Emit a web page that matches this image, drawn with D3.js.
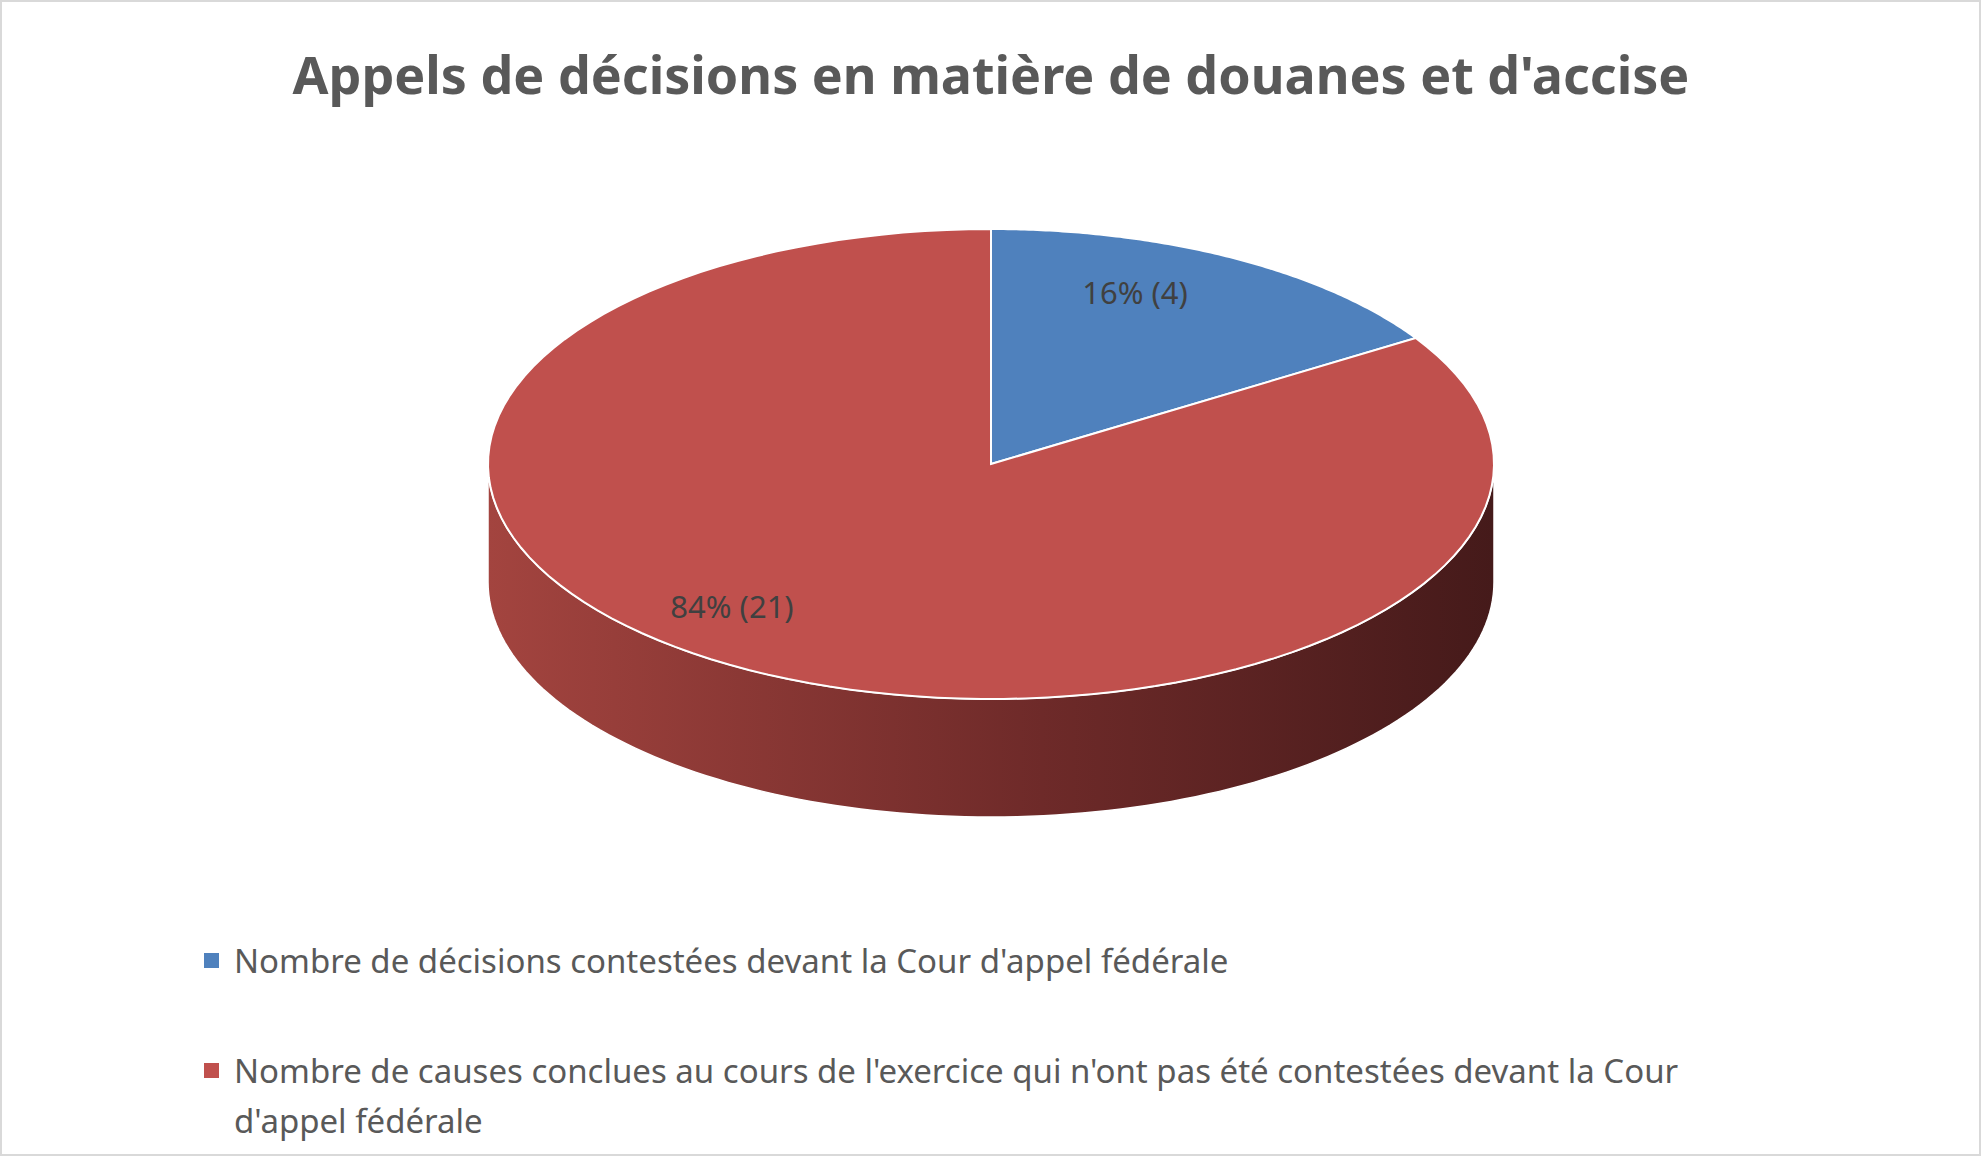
<!DOCTYPE html>
<html lang="fr">
<head>
<meta charset="UTF-8" />
<script src="https://cdn.jsdelivr.net/npm/d3@7"></script>
<style>
  body { margin:0; background:#fff; }
  svg text { font-family: "Noto Sans", "Open Sans", sans-serif; }
</style>
</head>
<body>
<svg id="chart" width="1982" height="1157"></svg>
<script>
// data
var categories = ["Nombre de décisions contestées devant la Cour d'appel fédérale",
  "Nombre de causes conclues au cours de l'exercice qui n'ont pas été contestées devant la Cour d'appel fédérale"];
var values = [4, 21];
var colors = ["#4f81bd", "#c0504d"];
var title = "Appels de décisions en matière de douanes et d'accise";

var svg = d3.select("#chart");
svg.append("rect").attr("x", 1).attr("y", 1).attr("width", 1979).attr("height", 1154)
  .attr("fill", "#fff").attr("stroke", "#d9d9d9").attr("stroke-width", 2);

svg.append("text").attr("x", 991).attr("y", 94).attr("text-anchor", "middle")
  .attr("font-size", 52).attr("font-weight", "bold").attr("fill", "#595959").text(title);

var cx = 991, cy = 464, rx = 503, ry = 235, depth = 118;
function pt(a, dy) { return [cx + rx * Math.sin(a), cy - ry * Math.cos(a) + (dy || 0)]; }
function arcPts(a0, a1, dy) {
  var n = 120, out = [];
  for (var i = 0; i <= n; i++) out.push(pt(a0 + (a1 - a0) * i / n, dy));
  return out;
}
var line = d3.line();
var total = d3.sum(values);
var arcs = d3.pie().sort(null)(values);

// side wall (front half, all red here)
var grad = svg.append("defs").append("linearGradient").attr("id", "side")
  .attr("x1", "0%").attr("x2", "100%");
grad.append("stop").attr("offset", "0%").attr("stop-color", "#a3443f");
grad.append("stop").attr("offset", "55%").attr("stop-color", "#6e2a29");
grad.append("stop").attr("offset", "100%").attr("stop-color", "#451a1a");
var sideTop = arcPts(Math.PI / 2, 3 * Math.PI / 2, 0);
var sideBot = arcPts(3 * Math.PI / 2, Math.PI / 2, depth);
svg.append("path").attr("d", line(sideTop.concat(sideBot)) + "Z")
  .attr("fill", "url(#side)").attr("stroke", "#fff").attr("stroke-width", 1.5);

// top faces
arcs.forEach(function (d, i) {
  var pts = [[cx, cy]].concat(arcPts(d.startAngle, d.endAngle, 0));
  svg.append("path").attr("d", line(pts) + "Z")
    .attr("fill", colors[i]).attr("stroke", "#fff").attr("stroke-width", 2);
});

// labels
var labelPos = [[1135, 293], [732, 607]];
arcs.forEach(function (d, i) {
  svg.append("text").attr("x", labelPos[i][0]).attr("y", labelPos[i][1] + 11)
    .attr("text-anchor", "middle").attr("font-size", 31).attr("fill", "#404040")
    .text(Math.round(d.value / total * 100) + "% (" + d.value + ")");
});

// legend
var legendLines = [[categories[0]],
  ["Nombre de causes conclues au cours de l'exercice qui n'ont pas été contestées devant la Cour", "d'appel fédérale"]];
var legendY = [961, 1071];
legendLines.forEach(function (ls, i) {
  svg.append("rect").attr("x", 204).attr("y", legendY[i] - 8).attr("width", 15).attr("height", 15).attr("fill", colors[i]);
  var t = svg.append("text").attr("font-size", 33).attr("fill", "#595959");
  ls.forEach(function (s, j) {
    t.append("tspan").attr("x", 234).attr("y", legendY[i] + 12 + j * 50).text(s);
  });
});
</script>
</body>
</html>
